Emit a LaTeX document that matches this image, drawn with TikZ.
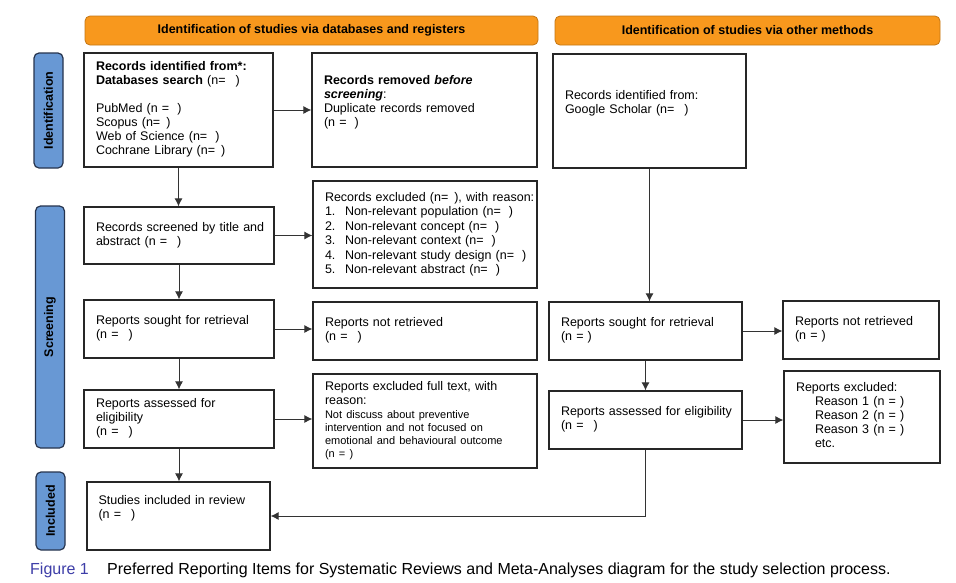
\documentclass[tikz,border=0pt]{standalone}
\usepackage{fontspec}
\setmainfont{Liberation Sans}
\usetikzlibrary{arrows.meta}
\definecolor{hdrfill}{RGB}{248,152,29}
\definecolor{hdrline}{RGB}{196,118,20}
\definecolor{sidefill}{RGB}{104,152,212}
\definecolor{sideline}{RGB}{38,52,78}
\definecolor{figblue}{RGB}{62,62,168}
\newcommand\tx[1]{\begin{tabular}{@{}l@{}}#1\end{tabular}}
\newcommand\nfs{\fontsize{12.5}{14}\selectfont}
\newcommand\sfs{\fontsize{11}{13}\selectfont}
\begin{document}
\begin{tikzpicture}[x=1pt,y=-1pt,
 box/.style={draw=black!85, line width=1.3pt, fill=white, inner xsep=12pt, inner ysep=0pt, align=left, font=\nfs},
 hdr/.style={draw=hdrline, line width=0.8pt, fill=hdrfill, rounded corners=5pt, font=\nfs\bfseries, minimum height=29pt, inner sep=0pt},
 side/.style={draw=sideline, line width=1.2pt, fill=sidefill, rounded corners=5pt, font=\nfs\bfseries, rotate=90, minimum height=29pt, inner sep=0pt},
 arr/.style={draw=black!80, line width=0.9pt, -{Latex[length=8pt,width=8pt]}},
]
\fill[white] (0,0) rectangle (956,582);
\useasboundingbox (0,0) rectangle (956,582);

% headers
\node[hdr, minimum width=453pt] (h1) at (311.5,30.5) {Identification of studies via databases and registers};
\node[hdr, minimum width=385pt] (h2) at (747.5,30.5) {Identification of studies via other methods};

% side labels
\node[side, minimum width=115pt] (sid) at (48.5,110.5) {Identification};
\node[side, minimum width=242pt] (ssc) at (50,327) {Screening};
\node[side, minimum width=78pt] (sin) at (50.5,511) {Included};

% left column
\node[box, minimum width=189pt, minimum height=114pt, text width=165pt] (A) at (178.5,110)
 {\raisebox{-2pt}{\tx{\textbf{Records identified from*:}\\\textbf{Databases search} (n=\hspace{10pt})\\[14pt]PubMed (n =\hspace{8pt})\\Scopus (n=\hspace{6pt})\\Web of Science (n=\hspace{8pt})\\Cochrane Library (n=\hspace{6pt})}}};
\node[box, minimum width=225pt, minimum height=114pt, text width=201pt] (B) at (424.5,110)
 {\tx{\textbf{Records removed \textit{before}}\\\textbf{\textit{screening}}:\\Duplicate records removed\\(n =\hspace{8pt})\\ \mbox{}}};
\node[box, minimum width=190pt, minimum height=57pt, text width=166pt] (D) at (179,235.5)
 {\tx{Records screened by title and\\abstract (n =\hspace{10pt})}};
\node[box, minimum width=224pt, minimum height=107pt, text width=200pt] (E) at (425,234.5)
 {\renewcommand\arraystretch{1.04}\tx{Records excluded (n=\hspace{6pt}), with reason:\\
 \makebox[20pt][l]{1.}Non-relevant population (n=\hspace{8pt})\\
 \makebox[20pt][l]{2.}Non-relevant concept (n=\hspace{8pt})\\
 \makebox[20pt][l]{3.}Non-relevant context (n=\hspace{8pt})\\
 \makebox[20pt][l]{4.}Non-relevant study design (n=\hspace{8pt})\\
 \makebox[20pt][l]{5.}Non-relevant abstract (n=\hspace{8pt})}};
\node[box, minimum width=190pt, minimum height=58pt, text width=166pt] (F) at (179,329)
 {\tx{Reports sought for retrieval\\(n =\hspace{10pt})}};
\node[box, minimum width=224pt, minimum height=58pt, text width=200pt] (G) at (425,331)
 {\tx{Reports not retrieved\\(n =\hspace{10pt})}};
\node[box, minimum width=190pt, minimum height=58pt, text width=166pt] (H) at (179,419)
 {\tx{Reports assessed for\\eligibility\\(n =\hspace{10pt})}};
\node[box, minimum width=224pt, minimum height=94pt, text width=200pt] (I) at (425,421)
 {\raisebox{-3pt}{\tx{Reports excluded full text, with\\reason:\\
 \sfs Not discuss about preventive\\[-0.8pt]
 \sfs intervention and not focused on\\[-0.8pt]
 \sfs emotional and behavioural outcome\\[-0.8pt]
 \sfs (n = )}}};
\node[box, minimum width=183pt, minimum height=68pt, text width=160pt, inner xsep=11.5pt] (S) at (178.5,516)
 {\tx{Studies included in review\\(n =\hspace{10pt})\\ \mbox{}}};

% right column
\node[box, minimum width=193pt, minimum height=114pt, text width=169pt] (C) at (649.5,111)
 {\tx{Records identified from:\\Google Scholar (n=\hspace{10pt})\\ \mbox{}}};
\node[box, minimum width=193pt, minimum height=58pt, text width=169pt] (J) at (645.5,331)
 {\tx{Reports sought for retrieval\\(n = )}};
\node[box, minimum width=156pt, minimum height=58pt, text width=132pt] (K) at (861,330)
 {\tx{Reports not retrieved\\(n = )}};
\node[box, minimum width=193pt, minimum height=58pt, text width=169pt] (L) at (645.5,420)
 {\tx{Reports assessed for eligibility\\(n =\hspace{10pt})}};
\node[box, minimum width=156pt, minimum height=92pt, text width=132pt] (M) at (862,417)
 {\tx{Reports excluded:\\\hspace*{19pt}Reason 1 (n = )\\\hspace*{19pt}Reason 2 (n = )\\\hspace*{19pt}Reason 3 (n = )\\\hspace*{19pt}etc.}};

% connectors
\draw[arr] (A.south) -- (A.south |- D.north);
\draw[arr] (A.east) -- (A.east -| B.west);
\draw[arr] (D.east) -- (D.east -| E.west);
\draw[arr] (D.south) -- (D.south |- F.north);
\draw[arr] (F.east) -- (F.east -| G.west);
\draw[arr] (F.south) -- (F.south |- H.north);
\draw[arr] (H.east) -- (H.east -| I.west);
\draw[arr] (H.south) -- (H.south |- S.north);
\draw[arr] (C.south) -- (C.south |- J.north);
\draw[arr] (J.east) -- (J.east -| K.west);
\draw[arr] (J.south) -- (J.south |- L.north);
\draw[arr] (L.east) -- (L.east -| M.west);
\draw[arr] (L.south) |- (S.east);

% caption
\node[anchor=base west, inner sep=0pt, font=\fontsize{16}{19}\selectfont, text=figblue] (fig) at (30,574) {Figure 1};
\node[anchor=base west, inner sep=0pt, font=\fontsize{16}{19}\selectfont] (cap) at (107,574) {Preferred Reporting Items for Systematic Reviews and Meta-Analyses diagram for the study selection process.};
\end{tikzpicture}
\end{document}
